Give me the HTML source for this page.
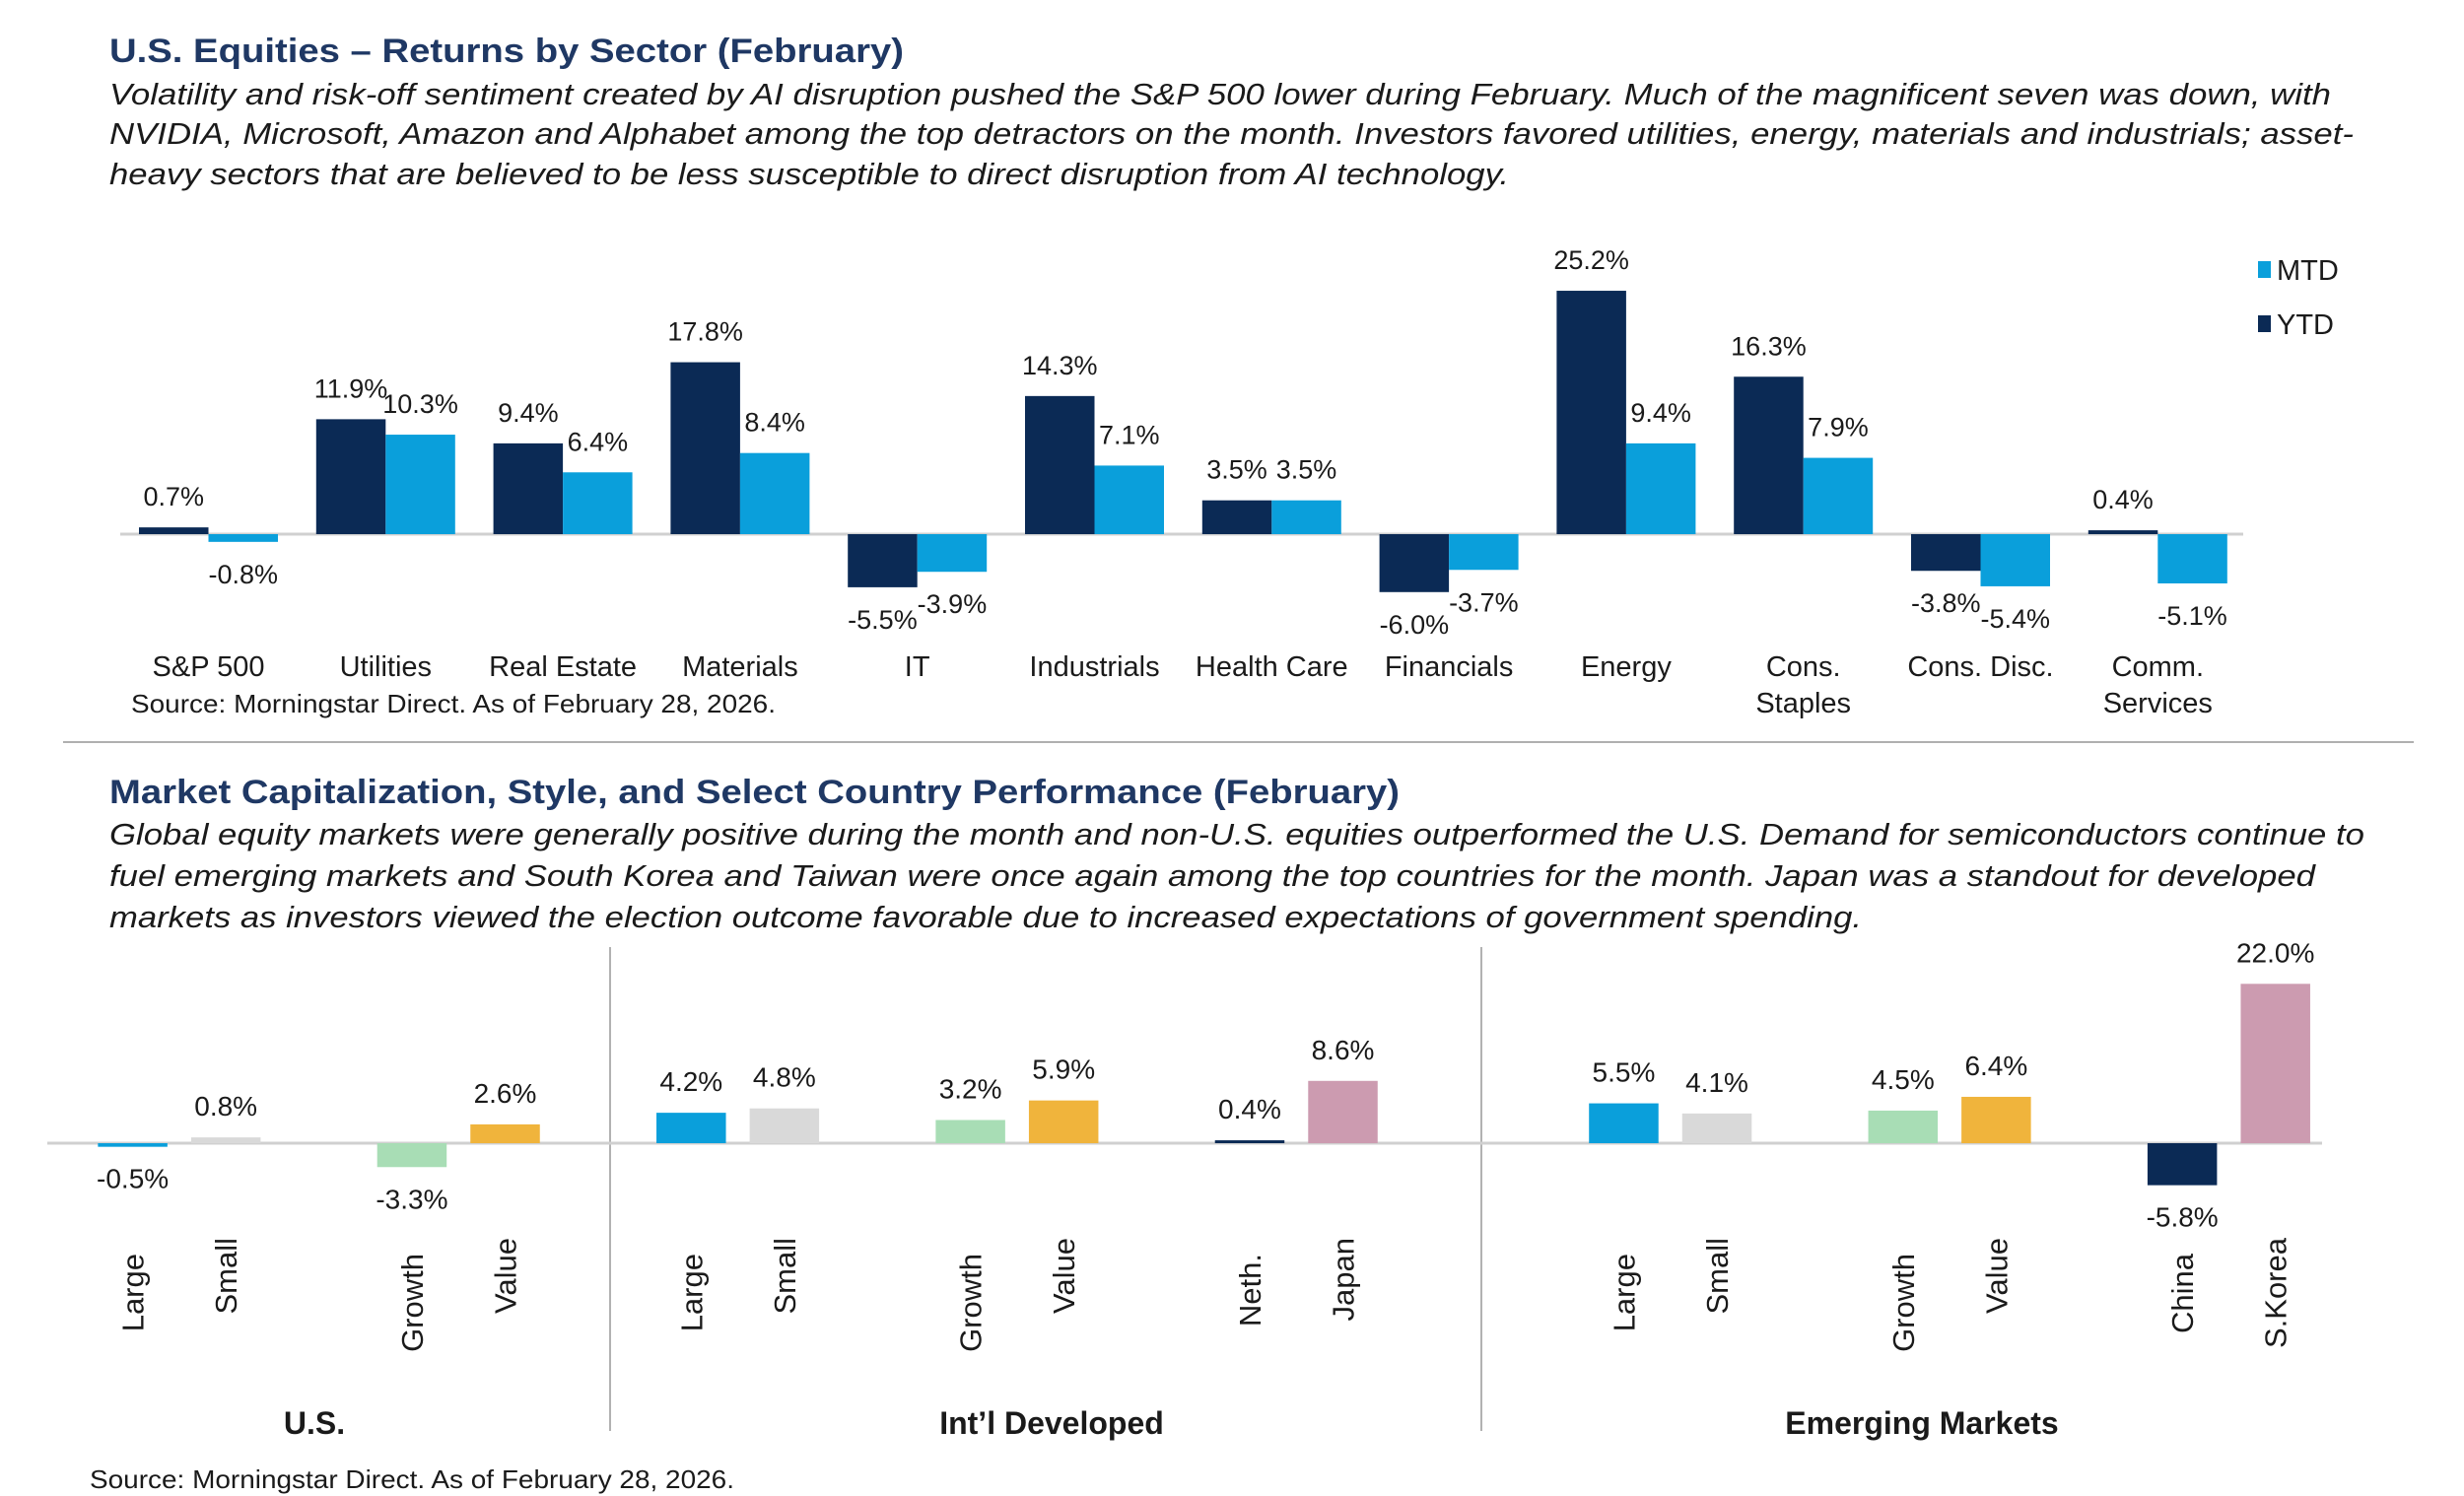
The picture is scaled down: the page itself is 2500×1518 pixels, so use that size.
<!DOCTYPE html>
<html><head><meta charset="utf-8">
<style>
html,body{margin:0;padding:0;background:#fff;}
svg{display:block;font-family:"Liberation Sans",Arial,sans-serif;}
</style></head>
<body>
<svg id="root" width="2500" height="1518" viewBox="0 0 2500 1518" xmlns="http://www.w3.org/2000/svg">
  <rect width="2500" height="1518" fill="#fff"/>
  <text x="111" y="63" font-size="34" font-weight="bold" fill="#1F3864" textLength="806" lengthAdjust="spacingAndGlyphs">U.S. Equities – Returns by Sector (February)</text>
  <g font-size="31" font-style="italic" fill="#1a1a1a">
    <text x="111" y="106" textLength="2254" lengthAdjust="spacingAndGlyphs">Volatility and risk-off sentiment created by AI disruption pushed the S&amp;P 500 lower during February. Much of the magnificent seven was down, with</text>
    <text x="111" y="146" textLength="2277" lengthAdjust="spacingAndGlyphs">NVIDIA, Microsoft, Amazon and Alphabet among the top detractors on the month. Investors favored utilities, energy, materials and industrials; asset-</text>
    <text x="111" y="187" textLength="1420" lengthAdjust="spacingAndGlyphs">heavy sectors that are believed to be less susceptible to direct disruption from AI technology.</text>
  </g>
  <g id="top-chart"></g>
  <g font-size="29" fill="#1a1a1a">
    <g><rect x="2291" y="265" width="13" height="17" fill="#0A9FDB"/><text x="2310" y="284">MTD</text></g>
    <g><rect x="2291" y="320" width="13" height="17" fill="#0B2A55"/><text x="2310" y="339">YTD</text></g>
  </g>
  <text x="133" y="723" font-size="26" fill="#1a1a1a" textLength="654" lengthAdjust="spacingAndGlyphs">Source: Morningstar Direct. As of February 28, 2026.</text>
  <line x1="64" y1="753" x2="2449" y2="753" stroke="#b0b0b0" stroke-width="2"/>

  <text x="111" y="815" font-size="34" font-weight="bold" fill="#1F3864" textLength="1309" lengthAdjust="spacingAndGlyphs">Market Capitalization, Style, and Select Country Performance (February)</text>
  <g font-size="31" font-style="italic" fill="#1a1a1a">
    <text x="111" y="857" textLength="2288" lengthAdjust="spacingAndGlyphs">Global equity markets were generally positive during the month and non-U.S. equities outperformed the U.S. Demand for semiconductors continue to</text>
    <text x="111" y="899" textLength="2238" lengthAdjust="spacingAndGlyphs">fuel emerging markets and South Korea and Taiwan were once again among the top countries for the month. Japan was a standout for developed</text>
    <text x="111" y="941" textLength="1778" lengthAdjust="spacingAndGlyphs">markets as investors viewed the election outcome favorable due to increased expectations of government spending.</text>
  </g>
  <line x1="619" y1="961" x2="619" y2="1452" stroke="#999" stroke-width="1.5"/>
  <line x1="1503" y1="961" x2="1503" y2="1452" stroke="#999" stroke-width="1.5"/>
  <g id="bottom-chart"></g>
  <g font-size="32" font-weight="bold" fill="#1a1a1a" text-anchor="middle">
    <text x="319" y="1455">U.S.</text>
    <text x="1067" y="1455">Int’l Developed</text>
    <text x="1950" y="1455">Emerging Markets</text>
  </g>
  <text x="91" y="1510" font-size="26" fill="#1a1a1a" textLength="654" lengthAdjust="spacingAndGlyphs">Source: Morningstar Direct. As of February 28, 2026.</text>
</svg>
<script>
const sectors = ["S&P 500","Utilities","Real Estate","Materials","IT","Industrials","Health Care","Financials","Energy","Cons.|Staples","Cons. Disc.","Comm.|Services"];
const ytdValues = [0.7,11.9,9.4,17.8,-5.5,14.3,3.5,-6.0,25.2,16.3,-3.8,0.4];
const mtdValues = [-0.8,10.3,6.4,8.4,-3.9,7.1,3.5,-3.7,9.4,7.9,-5.4,-5.1];

const perfLabels = ["Large","Small","Growth","Value","Large","Small","Growth","Value","Neth.","Japan","Large","Small","Growth","Value","China","S.Korea"];
const perfValues = [-0.5,0.8,-3.3,2.6,4.2,4.8,3.2,5.9,0.4,8.6,5.5,4.1,4.5,6.4,-5.8,22.0];
const perfColors = ["#0A9FDB","#D9D9D9","#A8DDB5","#F0B43C","#0A9FDB","#D9D9D9","#A8DDB5","#F0B43C","#0B2A55","#CC9BB0","#0A9FDB","#D9D9D9","#A8DDB5","#F0B43C","#0B2A55","#CC9BB0"];

const NS = "http://www.w3.org/2000/svg";
function mk(tag, attrs, parent){ const e=document.createElementNS(NS,tag); for(const k in attrs) e.setAttribute(k,attrs[k]); parent.appendChild(e); return e; }
function fmt(v){ return v.toFixed(1)+"%"; }

// Top chart
const topG = document.getElementById("top-chart");
const tBase = 542, tScale = 9.8, tX0 = 141, tStep = 179.8, tBW = 70.5;
function ty(v){ return tBase - v*tScale; }
const ax = mk("line",{x1:122,y1:tBase,x2:2276,y2:tBase,stroke:"#d0d0d0","stroke-width":3},topG);


sectors.forEach(function(s,i){
  const gx = tX0 + i*tStep;
  [[ytdValues[i],"#0B2A55","ytd"],[mtdValues[i],"#0A9FDB","mtd"]].forEach(function(d,j){
    const v=d[0], x=gx+j*tBW;
    const r = mk("rect",{x:x,y:Math.min(ty(v),tBase),width:tBW,height:Math.abs(v*tScale),fill:d[1]},topG);
    
    
    const ly = v>=0 ? ty(v)-22 : ty(v)+42;
    const t = mk("text",{x:x+tBW/2,y:ly,"font-size":27,"text-anchor":"middle",fill:"#1a1a1a"},topG);
    t.textContent = fmt(v);
    
    
  });
  const parts = s.split("|");
  parts.forEach(function(p,k){
    const t = mk("text",{x:gx+tBW,y:686+k*37,"font-size":29,"text-anchor":"middle",fill:"#1a1a1a"},topG);
    t.textContent = p;
    
    
  });
});

// Bottom chart
const botG = document.getElementById("bottom-chart");
const bBase = 1160, bScale = 7.35, bBW = 70.5;
function by(v){ return bBase - v*bScale; }
function bx(i){ const p=Math.floor(i/2), j=i%2; return (62 + p*176.8 + (p>=5?60:0) + j*59)*1.6026; }
const bax = mk("line",{x1:48,y1:bBase,x2:2356,y2:bBase,stroke:"#d0d0d0","stroke-width":3},botG);


perfValues.forEach(function(v,i){
  const x = bx(i);
  const r = mk("rect",{x:x,y:Math.min(by(v),bBase),width:bBW,height:Math.max(Math.abs(v*bScale),2),fill:perfColors[i]},botG);
  
  
  const ly = v>=0 ? by(v)-22 : by(v)+42;
  const t = mk("text",{x:x+bBW/2,y:ly,"font-size":28,"text-anchor":"middle",fill:"#1a1a1a"},botG);
  t.textContent = fmt(v);
  
  
  const cx = x+bBW/2+11, topY = (i%2===0)?1272:1256;
  const c = mk("text",{x:cx,y:topY,"font-size":31,"text-anchor":"end",fill:"#1a1a1a",transform:"rotate(-90 "+cx+" "+topY+")"},botG);
  c.textContent = perfLabels[i];
  
  
});
</script>
</body></html>
